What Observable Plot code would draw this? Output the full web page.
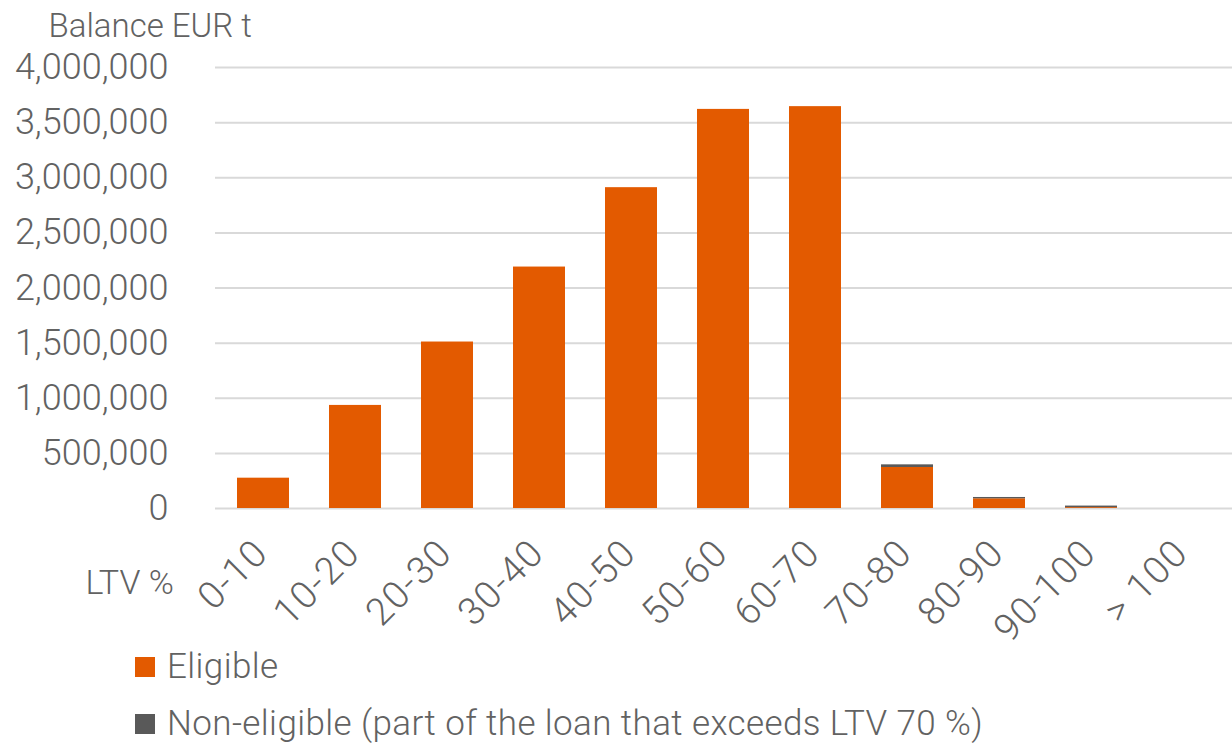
<!DOCTYPE html>
<html>
<head>
<meta charset="utf-8">
<script src="https://cdn.jsdelivr.net/npm/d3@7"></script>
<script src="https://cdn.jsdelivr.net/npm/@observablehq/plot@0.6"></script>
<style>
  html, body { margin: 0; padding: 0; background: #fff; }
  #wrap { position: relative; width: 1232px; height: 753px; font-family: Roboto, sans-serif; font-weight: 300; color: #626262; }
  #wrap svg { position: absolute; left: 0; top: 0; }
  .leg { position: absolute; left: 135px; display: flex; align-items: center; font-size: 35px; letter-spacing: 0.4px; white-space: nowrap; }
  .sw { width: 20px; height: 20px; margin-right: 12px; }
  g[aria-label="x-axis tick label"] text { letter-spacing: 1.5px; }
</style>
</head>
<body>
<div id="wrap"></div>
<script>
const categories = ["0-10", "10-20", "20-30", "30-40", "40-50", "50-60", "60-70", "70-80", "80-90", "90-100", "> 100"];
const eligible   = [275000, 935000, 1510000, 2190000, 2910000, 3620000, 3645000, 372000, 88000, 8000, 0];
const nonEligible = [0, 0, 0, 0, 0, 0, 0, 24000, 12000, 14000, 0];
const yTicks = [0, 500000, 1000000, 1500000, 2000000, 2500000, 3000000, 3500000, 4000000];
const seriesNames = ["Eligible", "Non-eligible (part of the loan that exceeds LTV 70 %)"];
const seriesColors = ["#E35A00", "#595959"];

const rows = [];
categories.forEach((c, i) => {
  rows.push({cat: c, series: seriesNames[0], value: eligible[i]});
  rows.push({cat: c, series: seriesNames[1], value: nonEligible[i]});
});

const chart = Plot.plot({
  width: 1232,
  height: 660,
  marginLeft: 215,
  marginRight: 0,
  marginTop: 67,
  marginBottom: 152,
  style: {fontFamily: "Roboto, sans-serif", fontWeight: 300, color: "#626262", background: "transparent"},
  x: {domain: categories, paddingInner: 0.43, paddingOuter: 0.215, align: 0.5, label: null},
  y: {domain: [0, 4000000], label: null},
  color: {domain: seriesNames, range: seriesColors},
  marks: [
    Plot.ruleY(yTicks, {stroke: "#d9d9d9", strokeWidth: 2}),
    Plot.barY(rows, {x: "cat", y: "value", fill: "series", order: seriesNames}),
    Plot.axisY({ticks: yTicks, tickSize: 0, tickPadding: 47, tickFormat: d3.format(","), fontSize: 36, fill: "#626262"}),
    Plot.axisX({tickSize: 0, tickRotate: -45, tickPadding: 14, fontSize: 38, fill: "#626262", dx: -2, dy: 24}),
    Plot.text(["Balance EUR t"], {frameAnchor: "top-left", textAnchor: "start", dx: -167, dy: -54, fontSize: 33, fill: "#626262"}),
    Plot.text(["LTV %"], {frameAnchor: "bottom-left", textAnchor: "start", dx: -130, dy: 85, fontSize: 34, fill: "#626262"})
  ]
});

const wrap = document.getElementById("wrap");
wrap.appendChild(chart);
seriesNames.forEach((name, i) => {
  const d = document.createElement("div");
  d.className = "leg";
  d.style.top = (646 + i * 57) + "px";
  const sw = document.createElement("span");
  sw.className = "sw";
  sw.style.background = seriesColors[i];
  const t = document.createElement("span");
  t.textContent = name;
  d.appendChild(sw); d.appendChild(t);
  wrap.appendChild(d);
});
</script>
</body>
</html>
